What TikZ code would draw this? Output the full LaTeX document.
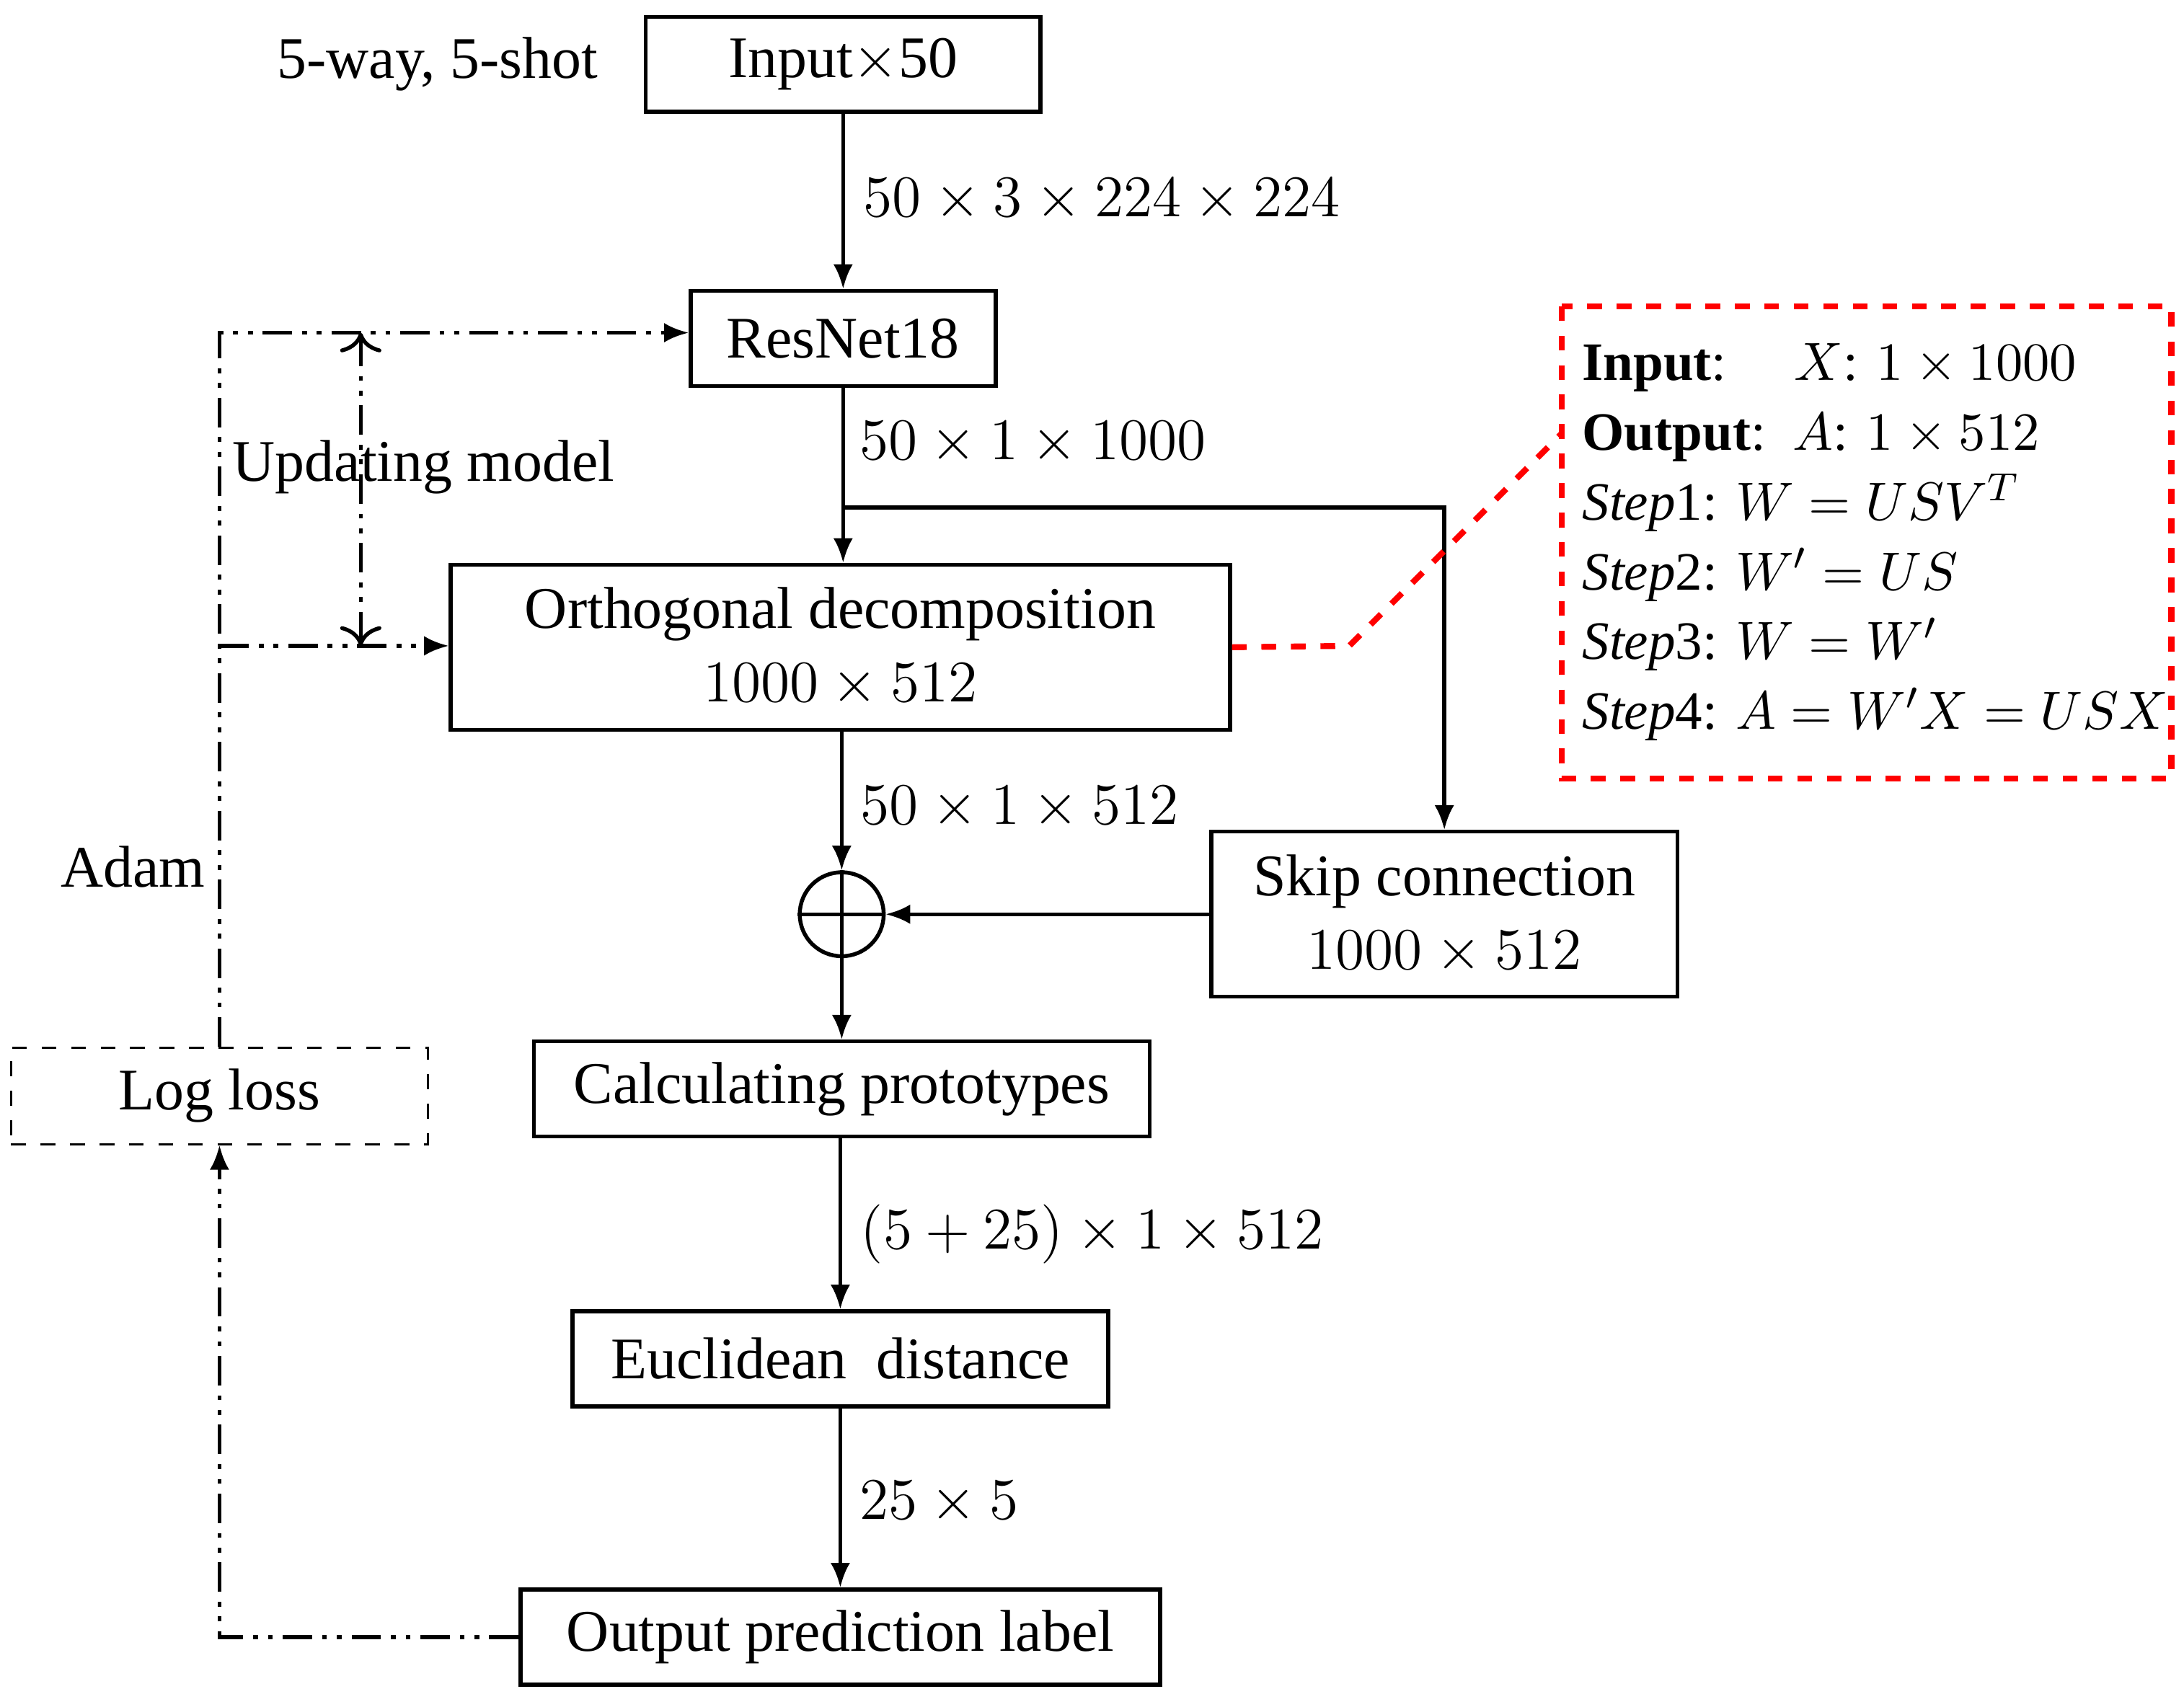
\documentclass[tikz,border=0pt]{standalone}
\usepackage{fontspec}
\setmainfont{Liberation Serif}
\usetikzlibrary{positioning,arrows.meta}
\tikzstyle{blk} = [draw, thick, minimum height=0.68cm, inner sep=2pt, align=center]
\tikzstyle{lbl} = [anchor=west, inner sep=0pt]
\tikzstyle{flow} = [thick, -{Latex[length=5pt,width=4pt]}]
\tikzstyle{upd} = [thick, dash pattern=on 6pt off 2pt on 1pt off 2pt on 1pt off 2pt]
\begin{document}
\begin{tikzpicture}[x=0.01cm, y=-0.01cm, font=\fontsize{12}{15}\selectfont]
\useasboundingbox (0,0) rectangle (1562,1208);
% main column
\node[blk, minimum width=2.82cm] (inp) at (603,46) {Input$\times$50};
\node[inner sep=0pt] (way) at (313,46) {5-way, 5-shot};
\node[blk, minimum width=2.18cm] (res) at (603,242) {ResNet18};
\node[blk, minimum width=5.57cm, minimum height=1.18cm] (orth) at (601,463) {Orthogonal decomposition\\$1000\times512$};
\node[draw, thick, circle, minimum size=0.6cm, inner sep=0pt] (plus) at (602,654) {};
\draw[thick] (plus.north) -- (plus.south) (plus.west) -- (plus.east);
\node[blk, minimum width=3.33cm, minimum height=1.18cm] (skip) at (1033,654) {Skip connection\\$1000\times512$};
\node[blk, minimum width=4.40cm] (proto) at (602,779) {Calculating prototypes};
\node[blk, minimum width=3.83cm] (eucl) at (601,972) {Euclidean\ \ distance};
\node[blk, minimum width=4.57cm] (outp) at (601,1171) {Output prediction label};
\node[draw, dashed, minimum width=2.98cm, minimum height=0.69cm] (loss) at (157,784) {Log loss};
% dimension labels
\node[lbl] (d1) at (617,143) {$50\times3\times224\times224$};
\node[lbl] (d2) at (614,317) {$50\times1\times1000$};
\node[lbl] (d3) at (615,578) {$50\times1\times512$};
\node[lbl] (d4) at (615,883) {$(5+25)\times1\times512$};
\node[lbl] (d5) at (614,1075) {$25\times5$};
\node (adam) at (95,620) {Adam};
\node (updm) at (303,334) {Updating model};
% connectors
\coordinate (br) at (603,363);
\coordinate (brr) at (1033,363);
\draw[flow] (inp) -- (res);
\draw[flow] (res) -- (orth.north -| res);
\draw[flow] (br) -- (brr) -- (skip.north);
\draw[flow] (orth.south -| plus) -- (plus);
\draw[flow] (skip) -- (plus);
\draw[flow] (plus) -- (proto);
\draw[flow] (proto.south -| eucl) -- (eucl);
\draw[flow] (eucl) -- (outp);
% update loop
\coordinate (c1) at (157,1171);
\coordinate (c2) at (157,238);
\coordinate (c3) at (157,462);
\coordinate (u1) at (258,238);
\coordinate (u2) at (258,462);
\draw[upd, -{Latex[length=5pt,width=4pt]}] (outp.west) -- (c1) -- (loss.south);
\draw[upd, -{Latex[length=5pt,width=4pt]}] (loss.north) -- (c2) -- (res.west |- c2);
\draw[upd, -{Latex[length=5pt,width=4pt]}] (c3) -- (orth.west |- c3);
\draw[upd, {To[length=4pt]}-{To[length=4pt]}] (u1) -- (u2);
% step box
\draw[red, very thick, dashed] (1117,219) rectangle (1553,557);
\node[anchor=north west, align=left, inner sep=0pt, font=\fontsize{11}{14.2}\selectfont] (stxt) at (1131,245) {%
\textbf{Input}:\quad\ $X$: $1\times1000$\\
\textbf{Output}:\ \ $A$: $1\times512$\\
\textit{Step}1: $W=USV^T$\\
\textit{Step}2: $W'=US$\\
\textit{Step}3: $W=W'$\\
\textit{Step}4: $A=W'X=USX$};
\coordinate (r1) at (965,462);
\coordinate (r2) at (1117,310);
\draw[red, very thick, dashed] (orth.east) -- (r1) -- (r2);
\end{tikzpicture}
\end{document}
